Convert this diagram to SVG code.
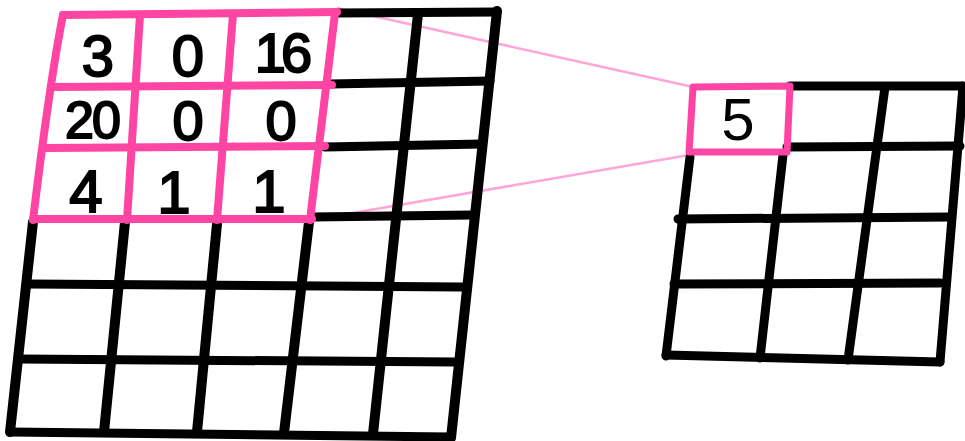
<svg xmlns="http://www.w3.org/2000/svg" width="965" height="441" viewBox="0 0 965 441">
<style>
.blk{stroke:#000;stroke-width:9;stroke-linecap:round;fill:none}
.pnk{stroke:#ff45a3;stroke-width:8;stroke-linecap:round;fill:none}
.con{stroke:#ffa6d6;stroke-width:2.5;fill:none}
.num{font-family:"Liberation Sans",Arial,sans-serif;fill:#000;stroke:#000;stroke-width:2;text-anchor:middle}
.out{font-family:"Liberation Sans",Arial,sans-serif;fill:#000;text-anchor:middle}
</style>
<rect width="965" height="441" fill="#fff"/>
<g id="connectors">
<line class="con" x1="337" y1="8" x2="693" y2="87"/>
<line class="con" x1="312" y1="220" x2="689" y2="155"/>
</g>
<g id="input-grid">
<path class="blk" d="M337 13 L497 12 M330 84 L490 81 M325 147 L482 144 M312 217 L472 215 M28 284 L462 287 M20 359 L455 362 M10 432 L450 437"/>
<path class="blk" d="M33 222 L10 432 M125 222 L104 432 M217 224 L197 432 M309 222 L284 433 M418 14 L373 434 M497 11 L451 438" style="stroke-width:10"/>
</g>
<g id="input-window">
<path class="pnk" d="M63 15 L337 12 M52 87 L332 85 M45 148 L325 146 M33 219 L312 219"/>
<path class="pnk" d="M63 15 Q50 80 33 220 M140 15 L127 220 M233 14 L217 220 M335 13 L310 220"/>
<text class="num" x="98" y="76" font-size="58">3</text>
<text class="num" x="188" y="76" font-size="58">0</text>
<text class="num" x="281" y="72" font-size="56" letter-spacing="-5">16</text>
<text class="num" x="92" y="138" font-size="52" letter-spacing="-2">20</text>
<text class="num" x="188" y="140" font-size="56">0</text>
<text class="num" x="281" y="140" font-size="56">0</text>
<text class="num" x="86" y="212" font-size="60">4</text>
<text class="num" x="174" y="213" font-size="60">1</text>
<text class="num" x="269" y="212" font-size="60">1</text>
</g>
<g id="output-grid">
<path class="blk" d="M790 86 L963 86 M787 147 L960 146 M678 219 L950 217 M674 284 L940 283 M666 355 L940 362"/>
<path class="blk" d="M690 157 L666 356 M783 155 L760 358 M885 87 L848 360 M963 86 L940 362"/>
</g>
<g id="output-cell">
<path class="pnk" d="M693 87 L790 86 L787 152 L689 152 Z" style="stroke-linejoin:round;stroke-width:7"/>
<text class="out" x="738" y="140" font-size="60">5</text>
</g>
</svg>
